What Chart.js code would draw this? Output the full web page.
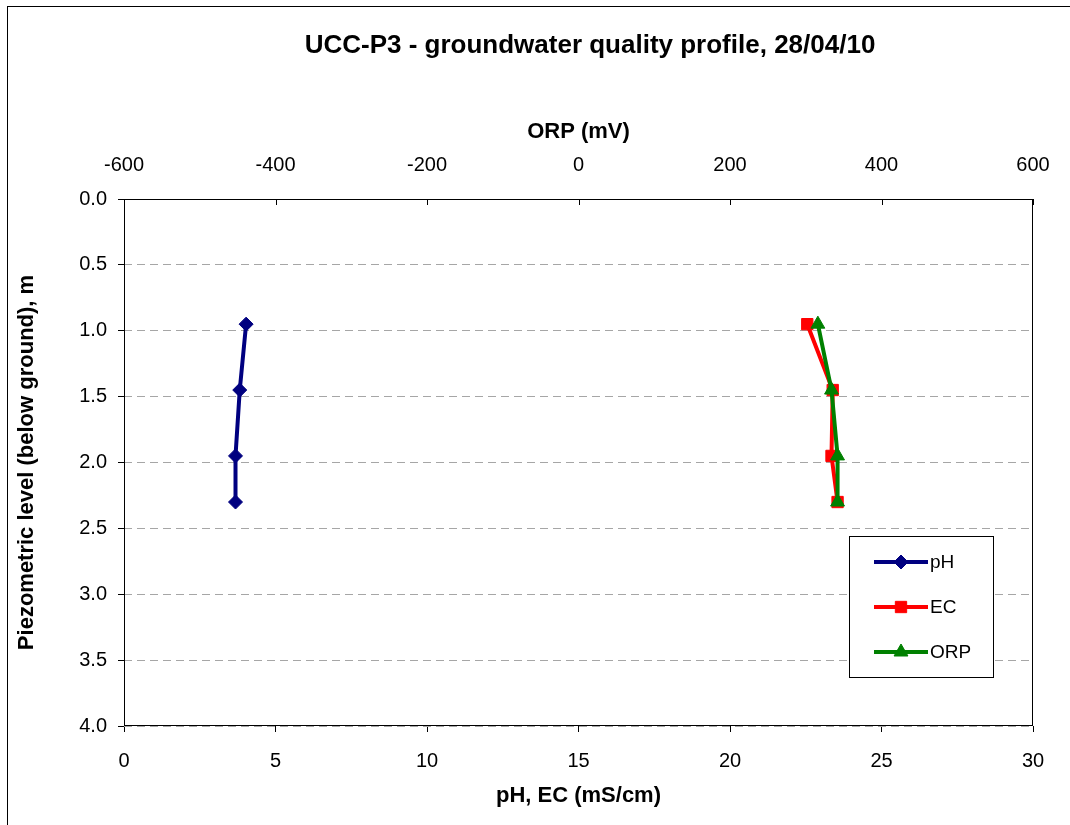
<!DOCTYPE html>
<html>
<head>
<meta charset="utf-8">
<script src="https://cdn.jsdelivr.net/npm/chart.js@4.4.1/dist/chart.umd.min.js"></script>
<style>
  html, body { margin: 0; padding: 0; background: #fff; }
  #wrap { width: 1070px; height: 825px; }
</style>
</head>
<body>
<div id="wrap"><canvas id="c" width="1070" height="825"></canvas></div>
<script>
// ---- data ----
const depth = [0.95, 1.45, 1.95, 2.30];           // piezometric level (m below ground)
const pH    = [4.03, 3.82, 3.68, 3.68];
const EC    = [22.55, 23.39, 23.35, 23.55];        // mS/cm
const ORP   = [316, 334, 342, 342];                 // mV
const seriesNames = ['pH', 'EC', 'ORP'];
const chartTitle = 'UCC-P3 - groundwater quality profile, 28/04/10';
const xTitle = 'pH, EC (mS/cm)';
const x2Title = 'ORP (mV)';
const yTitle = 'Piezometric level (below ground), m';

const FONT = "'Liberation Sans', Arial, sans-serif";
const pts = (xs) => xs.map((v, i) => ({ x: v, y: depth[i] }));

function drawMarker(ctx, style, r, x, y) {
  if (style === 'rectRot') {
    ctx.moveTo(x, y - r); ctx.lineTo(x + r, y); ctx.lineTo(x, y + r); ctx.lineTo(x - r, y); ctx.closePath();
  } else if (style === 'rect') {
    const s = Math.SQRT1_2 * r;
    ctx.rect(x - s, y - s, 2 * s, 2 * s);
  } else {
    const h = r * 0.866;
    ctx.moveTo(x, y - r); ctx.lineTo(x + h, y + r / 2); ctx.lineTo(x - h, y + r / 2); ctx.closePath();
  }
}

const frame = {
  id: 'frame',
  beforeDraw(chart) {
    const ctx = chart.ctx;
    ctx.save();
    ctx.fillStyle = '#fff';
    ctx.fillRect(0, 0, chart.width, chart.height);
    ctx.strokeStyle = '#000';
    ctx.lineWidth = 1;
    ctx.strokeRect(7.5, 6.5, 1200, 1000);
    // chart title
    ctx.fillStyle = '#000';
    ctx.font = 'bold 26px ' + FONT;
    ctx.textAlign = 'center';
    ctx.textBaseline = 'middle';
    ctx.fillText(chartTitle, 590, 46);
    ctx.restore();
  },
  beforeDatasetsDraw(chart) {
    const { ctx, chartArea: a } = chart;
    ctx.save();
    ctx.strokeStyle = '#000';
    ctx.lineWidth = 1;
    ctx.strokeRect(Math.round(a.left) + 0.5, Math.round(a.top) + 0.5,
                   Math.round(a.right - a.left) - 1, Math.round(a.bottom - a.top) - 1);
    // inward tick marks of the top (ORP) axis
    const s = chart.scales.x2;
    ctx.beginPath();
    s.ticks.forEach(t => {
      const px = Math.round(s.getPixelForValue(t.value)) + 0.5;
      ctx.moveTo(px, a.top);
      ctx.lineTo(px, a.top + 6);
    });
    ctx.stroke();
    ctx.restore();
  },
  afterDraw(chart) {
    const ctx = chart.ctx;
    const bx = 849.5, by = 536.5, bw = 144, bh = 141;
    ctx.save();
    ctx.fillStyle = '#fff';
    ctx.fillRect(bx, by, bw, bh);
    ctx.strokeStyle = '#000';
    ctx.lineWidth = 1;
    ctx.strokeRect(bx, by, bw, bh);
    const rows = [562, 607, 652];
    chart.data.datasets.forEach((ds, i) => {
      const y = rows[i];
      ctx.strokeStyle = ds.borderColor;
      ctx.lineWidth = ds.borderWidth;
      ctx.beginPath();
      ctx.moveTo(874, y);
      ctx.lineTo(928, y);
      ctx.stroke();
      ctx.fillStyle = ds.pointBackgroundColor;
      ctx.strokeStyle = ds.pointBorderColor;
      ctx.lineWidth = 1;
      ctx.beginPath();
      drawMarker(ctx, ds.pointStyle, ds.pointRadius, 901, y);
      ctx.fill();
      ctx.stroke();
      ctx.fillStyle = '#000';
      ctx.font = '19px ' + FONT;
      ctx.textAlign = 'left';
      ctx.textBaseline = 'middle';
      ctx.fillText(ds.label, 930, y + 1);
    });
    ctx.restore();
  }
};

const mk = (label, data, color, style, radius, axis, order) => ({
  label, data: pts(data), xAxisID: axis, yAxisID: 'y', order,
  borderColor: color, backgroundColor: color, borderWidth: 4,
  pointStyle: style, pointRadius: radius, pointHoverRadius: radius,
  pointBackgroundColor: color, pointBorderColor: color, pointBorderWidth: 1,
  tension: 0, fill: false
});

new Chart(document.getElementById('c'), {
  type: 'line',
  data: {
    datasets: [
      mk(seriesNames[0], pH,  '#000080', 'rectRot', 7, 'x', 2),
      mk(seriesNames[1], EC,  '#ff0000', 'rect', 8, 'x', 1),
      mk(seriesNames[2], ORP, '#008000', 'triangle', 8, 'x2', 0)
    ]
  },
  options: {
    responsive: false,
    animation: false,
    events: [],
    layout: { padding: { left: 0, right: 37, top: 61, bottom: 0 } },
    plugins: {
      legend: { display: false },
      tooltip: { enabled: false },
      title: { display: false }
    },
    scales: {
      x: {
        type: 'linear', position: 'bottom', min: 0, max: 30,
        afterFit(s) { s.height = 99; },
        ticks: { stepSize: 5, color: '#000', padding: 17, maxRotation: 0,
                 font: { family: FONT, size: 20 }, callback: v => String(v) },
        grid: { drawOnChartArea: false, drawTicks: true, tickLength: 6, tickColor: '#000', color: '#000' },
        border: { display: false },
        title: { display: true, text: xTitle, color: '#000',
                 font: { family: FONT, size: 22, weight: 'bold', lineHeight: 1.2 },
                 padding: { top: 0, bottom: 16 } }
      },
      x2: {
        type: 'linear', position: 'top', min: -600, max: 600,
        afterFit(s) { s.height = 138; },
        ticks: { stepSize: 200, color: '#000', padding: 14, maxRotation: 0,
                 font: { family: FONT, size: 20 }, callback: v => String(v) },
        grid: { display: false },
        border: { display: false },
        title: { display: true, text: x2Title, color: '#000',
                 font: { family: FONT, size: 22, weight: 'bold', lineHeight: 1.2 },
                 padding: { top: 58, bottom: 0 } }
      },
      y: {
        type: 'linear', position: 'left', min: 0, max: 4, reverse: true,
        afterFit(s) { s.width = 124; },
        ticks: { stepSize: 0.5, color: '#000', padding: 11,
                 font: { family: FONT, size: 20 }, callback: v => Number(v).toFixed(1) },
        grid: { color: '#a6a6a6', lineWidth: 1, tickBorderDash: [],
                tickLength: 6, tickColor: '#000' },
        border: { display: false, dash: [8, 5] },
        title: { display: true, text: yTitle, color: '#000',
                 font: { family: FONT, size: 22, weight: 'bold', lineHeight: 1.2 },
                 padding: { top: 14, bottom: 0 } }
      }
    }
  },
  plugins: [frame]
});
</script>
</body>
</html>
